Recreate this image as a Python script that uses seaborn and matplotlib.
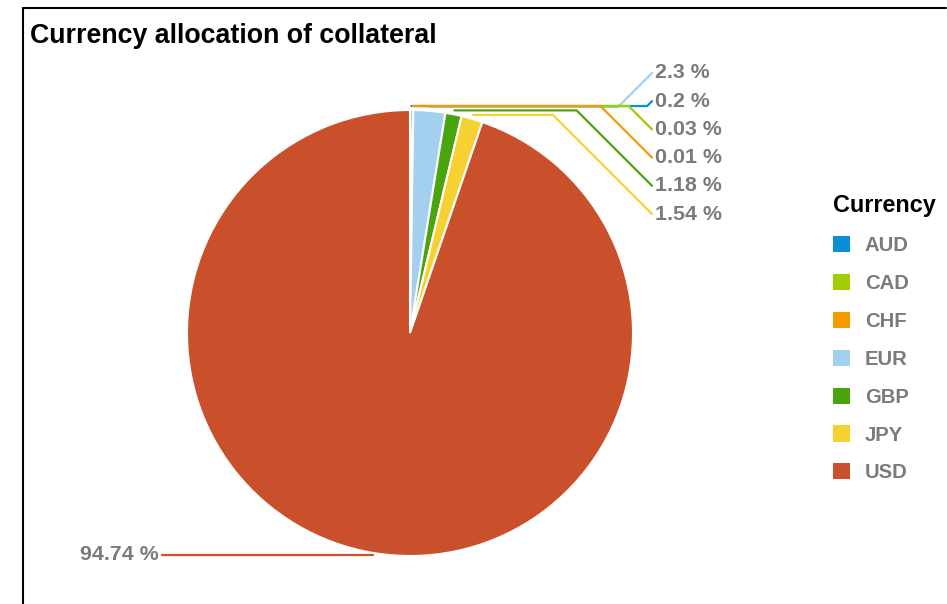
import numpy as np
import matplotlib
matplotlib.use("Agg")
import matplotlib.pyplot as plt
import seaborn as sns
from matplotlib.patches import Patch
from matplotlib.lines import Line2D

# ---- data ----
currencies = ["AUD", "CAD", "CHF", "EUR", "GBP", "JPY", "USD"]
shares = [0.2, 0.03, 0.01, 2.3, 1.18, 1.54, 94.74]
colors = ["#0b8ed6", "#9fcf00", "#f59b00", "#a2d0ee", "#4aa40e", "#f5d132", "#ca4f2b"]
label_order = ["EUR", "AUD", "CAD", "CHF", "GBP", "JPY"]
title = "Currency allocation of collateral"

sns.set_theme(style="white")
plt.rcParams['font.family'] = ['Liberation Sans', 'DejaVu Sans']

W, H = 947, 604
fig = plt.figure(figsize=(W / 100, H / 100), dpi=100)
ax = fig.add_axes([0, 0, 1, 1])

cx, cy, R = 410, H - 333, 223
palette = sns.color_palette(colors)
wedges, _ = ax.pie(shares, colors=palette, startangle=90, counterclock=False,
                   center=(cx, cy), radius=R, frame=True,
                   wedgeprops=dict(edgecolor="white", linewidth=1.5))
ax.set_xlim(0, W)
ax.set_ylim(0, H)
ax.set_aspect("equal")
ax.axis("off")

label_gray = "#7b7b7b"
lab_fs = 15.4

# leader lines + labels
total = sum(shares)
cum = np.cumsum(shares)
mid = {}
for c, v, cm in zip(currencies, shares, cum):
    mid[c] = 2 * np.pi * (cm - v / 2) / total

label_x = 652
row_top, row_step = H - 73, 28.2
for i, c in enumerate(label_order):
    k = currencies.index(c)
    th = mid[c]
    sx, sy = cx + (R + 4) * np.sin(th), cy + (R + 4) * np.cos(th)
    ly = row_top - i * row_step
    knee = label_x - abs(ly - sy)
    ax.plot([sx, knee, label_x], [sy, sy, ly], color=palette[k], lw=1.6,
            solid_joinstyle="miter", zorder=3)
    ax.text(label_x + 3, ly, f"{shares[k]:g} %", ha="left", va="center",
            fontsize=lab_fs, fontweight="bold", color=label_gray)

# USD label
k = currencies.index("USD")
th = mid["USD"]
sx, sy = cx + R * np.sin(th), cy + R * np.cos(th)
ax.plot([sx, 162], [sy - 2, sy - 2], color=palette[k], lw=1.6, zorder=3)
ax.text(159, sy - 2, f"{shares[k]:g} %", ha="right", va="center",
        fontsize=lab_fs, fontweight="bold", color=label_gray)

# title
fig.text(30 / W, 1 - 36 / H, title, ha="left", va="center", fontsize=19.3,
         fontweight="bold", color="black")

# legend
handles = [Patch(facecolor=palette[i], edgecolor="none") for i in range(len(currencies))]
leg = ax.legend(handles, currencies, title="Currency", loc="upper left",
                bbox_to_anchor=(825 / W, 1 - 186 / H), frameon=False,
                handlelength=0.84, handleheight=0.84, handletextpad=0.72,
                labelspacing=0.93, alignment="left", borderaxespad=0,
                prop={"weight": "bold", "size": 14.6},
                title_fontproperties={"weight": "bold", "size": 16.8})
for t in leg.get_texts():
    t.set_color(label_gray)
leg.get_title().set_color("black")

# border lines
fig.add_artist(Line2D([23 / W, 23 / W], [0, 1 - 8 / H], transform=fig.transFigure,
                      color="black", lw=1.5))
fig.add_artist(Line2D([23 / W, 946 / W], [1 - 8 / H, 1 - 8 / H], transform=fig.transFigure,
                      color="black", lw=1.5))

fig.savefig("out.png", dpi=100)
